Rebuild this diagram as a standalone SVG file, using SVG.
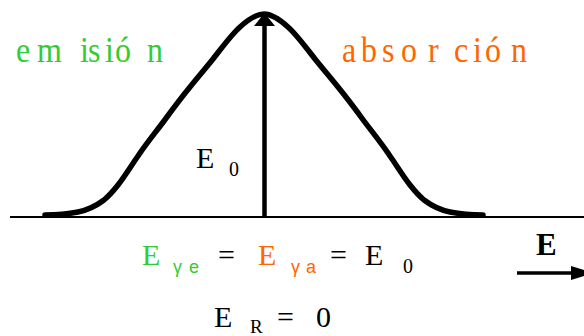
<svg xmlns="http://www.w3.org/2000/svg" width="584" height="336" viewBox="0 0 584 336">
<rect width="584" height="336" fill="#fff"/>
<g id="connectors" stroke="#000">
  <line x1="10" y1="217" x2="584" y2="217" stroke-width="2"/>
  <path id="curve" d="M45,215 C52,215 68,214 78,212 C88,210 96,206 104,200 C110,195 114,190 118,185 C125,176 131,166 138,156 C146,144 155,133 164,121 C172,110 181,98 190,87 C198,77 205,69 213,59 C221,49 231,35 240,27 C248.5,19.3 256,14 264,14 C272,14 279.5,19.3 288,27 C297,35 307,49 315,59 C323,69 330,77 338,87 C347,98 356,110 364,121 C373,133 382,144 390,156 C397,166 403,176 410,185 C414,190 418,195 424,200 C432,206 440,210 450,212 C460,214 476,215 483,215" fill="none" stroke-width="5.5" stroke-linecap="round" stroke-linejoin="round"/>
  <line x1="264.5" y1="217" x2="264.5" y2="24" stroke-width="4.5"/>
  <polygon points="264.5,13 254,26 275,26" fill="#000" stroke="none"/>
  <line x1="517" y1="273" x2="573" y2="273" stroke-width="3.5"/>
  <polygon points="571,266 594,273 571,280" fill="#000" stroke="none"/>
</g>
<g id="emision" fill="#33CC33">
  <text style="font-family:'Liberation Serif',serif" font-size="32" transform="translate(0,62) scale(1,1.15)" x="16 37 80 88 105 115 147" y="0">emisión</text>
</g>
<g id="absorcion" fill="#FF6600">
  <text style="font-family:'Liberation Serif',serif" font-size="32" transform="translate(0,62) scale(1,1.15)" x="342 361 382 401 428 454 473 485 511" y="0">absorción</text>
</g>
<g id="E0-label" fill="#000">
  <text style="font-family:'Liberation Serif',serif" font-size="30" x="196" y="168">E</text>
  <text style="font-family:'Liberation Serif',serif" font-size="20" x="229" y="176">0</text>
</g>
<g id="E-axis-label" fill="#000">
  <text style="font-family:'Liberation Serif',serif" font-size="31" font-weight="bold" x="536" y="255">E</text>
</g>
<g id="equation" fill="#000">
  <text style="font-family:'Liberation Serif',serif" font-size="30" x="142" y="265" fill="#33CC33">E</text>
  <text style="font-family:'Liberation Sans',sans-serif" font-size="18" x="173" y="273" fill="#33CC33">γ</text>
  <text style="font-family:'Liberation Sans',sans-serif" font-size="18" x="189" y="273" fill="#33CC33">e</text>
  <text style="font-family:'Liberation Serif',serif" font-size="30" x="218" y="265">=</text>
  <text style="font-family:'Liberation Serif',serif" font-size="30" x="258" y="265" fill="#FF6600">E</text>
  <text style="font-family:'Liberation Sans',sans-serif" font-size="18" x="291" y="273" fill="#FF6600">γ</text>
  <text style="font-family:'Liberation Sans',sans-serif" font-size="18" x="306" y="273" fill="#FF6600">a</text>
  <text style="font-family:'Liberation Serif',serif" font-size="30" x="330" y="265">=</text>
  <text style="font-family:'Liberation Serif',serif" font-size="30" x="365" y="265">E</text>
  <text style="font-family:'Liberation Serif',serif" font-size="20" x="403" y="273">0</text>
</g>
<g id="ER" fill="#000">
  <text style="font-family:'Liberation Serif',serif" font-size="30" x="214" y="327">E</text>
  <text style="font-family:'Liberation Serif',serif" font-size="19" x="250" y="333">R</text>
  <text style="font-family:'Liberation Serif',serif" font-size="30" x="277" y="327">=</text>
  <text style="font-family:'Liberation Serif',serif" font-size="30" x="316" y="327">0</text>
</g>
</svg>
